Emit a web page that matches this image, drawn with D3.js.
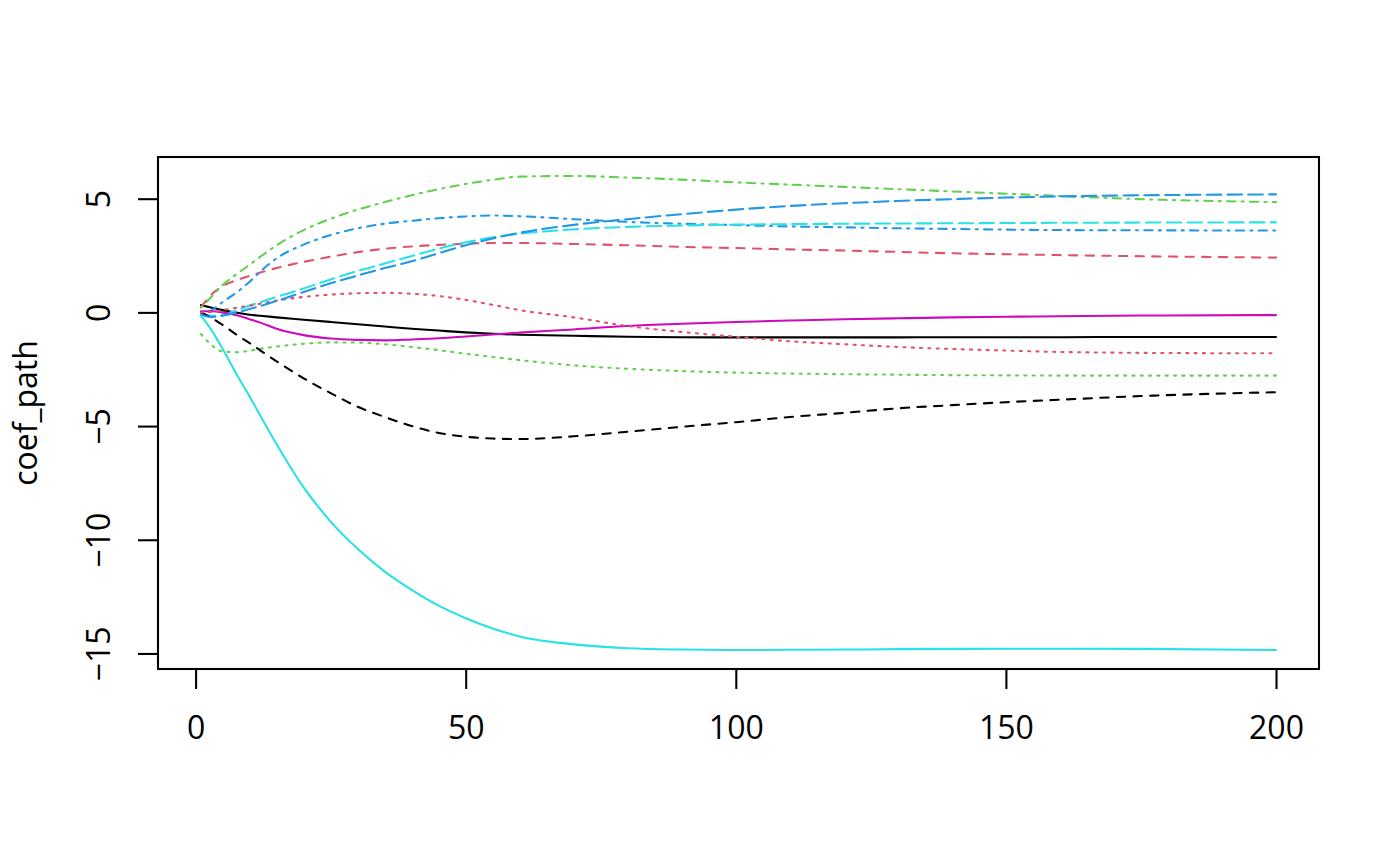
<!DOCTYPE html>
<html lang="en">
<head>
  <meta charset="UTF-8">
  <title>coef_path</title>
  <style>
    body { margin: 0; background: #fff; }
    text { font-family: "Open Sans", "Noto Sans", sans-serif; fill: #000; }
  </style>
</head>
<body>
  <script src="https://d3js.org/d3.v7.min.js"></script>
  <script>
    // Iteration grid the values were read at
    let iter = [1, 3, 5, 8, 10, 12, 15, 20, 25, 30, 35, 40, 45, 50, 55, 60, 70, 80, 90, 100, 110, 120, 130, 140, 150, 160, 175, 200];

    // One array per coefficient path (matplot column order)
    let path1  = [0.32, 0.2, 0.1, -0.03, -0.1, -0.15, -0.22, -0.32, -0.42, -0.52, -0.62, -0.72, -0.8, -0.88, -0.94, -0.98, -1.03, -1.07, -1.09, -1.1, -1.1, -1.1, -1.1, -1.09, -1.09, -1.09, -1.08, -1.08];
    let path2  = [0.23, 0.8, 1.15, 1.45, 1.6, 1.75, 1.95, 2.22, 2.45, 2.65, 2.8, 2.9, 2.97, 3.02, 3.05, 3.05, 3.01, 2.95, 2.88, 2.83, 2.77, 2.72, 2.66, 2.6, 2.56, 2.52, 2.47, 2.41];
    let path3  = [-0.95, -1.45, -1.72, -1.75, -1.68, -1.6, -1.5, -1.38, -1.32, -1.33, -1.4, -1.52, -1.66, -1.82, -1.96, -2.1, -2.33, -2.48, -2.58, -2.65, -2.69, -2.72, -2.74, -2.76, -2.77, -2.78, -2.78, -2.78];
    let path4  = [-0.1, 0.1, 0.45, 0.95, 1.35, 1.8, 2.38, 2.98, 3.4, 3.7, 3.9, 4.03, 4.14, 4.22, 4.26, 4.23, 4.1, 3.98, 3.9, 3.84, 3.78, 3.74, 3.7, 3.67, 3.64, 3.62, 3.61, 3.6];
    let path5  = [-0.05, -0.15, -0.1, 0.12, 0.3, 0.45, 0.68, 1.05, 1.45, 1.82, 2.15, 2.48, 2.8, 3.08, 3.3, 3.46, 3.65, 3.76, 3.82, 3.86, 3.88, 3.9, 3.91, 3.92, 3.93, 3.94, 3.95, 3.96];
    let path6  = [0.05, 0.05, 0.0, -0.15, -0.3, -0.45, -0.72, -1.0, -1.15, -1.21, -1.23, -1.19, -1.14, -1.06, -0.97, -0.89, -0.75, -0.6, -0.5, -0.42, -0.36, -0.3, -0.26, -0.22, -0.19, -0.17, -0.14, -0.12];
    let path7  = [0.0, -0.25, -0.55, -1.05, -1.35, -1.68, -2.15, -2.9, -3.55, -4.15, -4.6, -5.0, -5.3, -5.47, -5.55, -5.57, -5.45, -5.25, -5.03, -4.83, -4.6, -4.42, -4.22, -4.08, -3.95, -3.84, -3.68, -3.51];
    let path8  = [0.0, 0.02, 0.1, 0.22, 0.3, 0.38, 0.52, 0.68, 0.78, 0.84, 0.86, 0.82, 0.72, 0.55, 0.33, 0.1, -0.22, -0.6, -0.86, -1.07, -1.27, -1.4, -1.52, -1.61, -1.68, -1.74, -1.78, -1.8];
    let path9  = [0.2, 0.7, 1.2, 1.75, 2.1, 2.45, 2.95, 3.62, 4.12, 4.52, 4.85, 5.15, 5.42, 5.65, 5.83, 5.97, 6.0, 5.93, 5.84, 5.72, 5.62, 5.52, 5.42, 5.32, 5.22, 5.12, 4.98, 4.85];
    let path10 = [-0.1, -0.2, -0.15, 0.02, 0.15, 0.28, 0.5, 0.9, 1.28, 1.62, 1.95, 2.25, 2.6, 2.95, 3.25, 3.5, 3.85, 4.1, 4.32, 4.52, 4.68, 4.8, 4.9, 4.98, 5.05, 5.1, 5.15, 5.19];
    let path11 = [-0.15, -0.8, -1.6, -2.9, -3.7, -4.55, -5.8, -7.7, -9.2, -10.4, -11.4, -12.2, -12.9, -13.45, -13.9, -14.25, -14.6, -14.77, -14.83, -14.85, -14.84, -14.83, -14.81, -14.8, -14.79, -14.79, -14.8, -14.85];

    let paths = [path1, path2, path3, path4, path5, path6, path7, path8, path9, path10, path11];

    // Axis ticks
    let xTicks = [0, 50, 100, 150, 200];
    let yTicks = [-15, -10, -5, 0, 5];

    // R default palette and line types, cycled like matplot
    let palette = ["#000000", "#DF536B", "#61D04F", "#2297E6", "#28E2E5", "#CD0BBC"];
    let lw = 2.08;
    // R lty codes "44", "13", "1343", "73" in line-width units, drawn with round caps
    let dashes = [
      null,
      `${4 * lw},${4 * lw}`,
      `${1 * lw},${3 * lw}`,
      `${1 * lw},${3 * lw},${4 * lw},${3 * lw}`,
      `${7 * lw},${3 * lw}`
    ];

    let svgWidth = 1400;
    let svgHeight = 866;

    // Plot region box
    let box = { left: 158, right: 1319, top: 157, bottom: 669 };

    let svg = d3.select("body")
      .append("svg")
      .attr("width", svgWidth)
      .attr("height", svgHeight);

    // R style 4% padding of the data range
    let xMin = d3.min(iter), xMax = d3.max(iter);
    let xPad = (xMax - xMin) * 0.04;
    let allValues = paths.flat();
    let yMin = d3.min(allValues), yMax = d3.max(allValues);
    let yPad = (yMax - yMin) * 0.04;

    let x = d3.scaleLinear()
      .domain([xMin - xPad, xMax + xPad])
      .range([box.left, box.right]);

    let y = d3.scaleLinear()
      .domain([yMin - yPad, yMax + yPad])
      .range([box.bottom, box.top]);

    let line = d3.line()
      .x((d, i) => x(iter[i]))
      .y(d => y(d))
      .curve(d3.curveMonotoneX);

    // Clip lines to plot region
    svg.append("clipPath")
      .attr("id", "plotClip")
      .append("rect")
      .attr("x", box.left)
      .attr("y", box.top)
      .attr("width", box.right - box.left)
      .attr("height", box.bottom - box.top);

    svg.append("g")
      .attr("clip-path", "url(#plotClip)")
      .selectAll("path")
      .data(paths)
      .enter()
      .append("path")
      .attr("d", line)
      .attr("fill", "none")
      .attr("stroke", (d, i) => palette[i % palette.length])
      .attr("stroke-width", lw)
      .attr("stroke-linecap", "round")
      .attr("stroke-linejoin", "round")
      .attr("stroke-dasharray", (d, i) => dashes[i % dashes.length]);

    // Box around the plot
    svg.append("rect")
      .attr("x", box.left)
      .attr("y", box.top)
      .attr("width", box.right - box.left)
      .attr("height", box.bottom - box.top)
      .attr("fill", "none")
      .attr("stroke", "#000")
      .attr("stroke-width", lw);

    // Bottom axis
    let xAxis = d3.axisBottom(x)
      .tickValues(xTicks)
      .tickSize(20)
      .tickPadding(25)
      .tickFormat(d3.format("d"));

    let gx = svg.append("g")
      .attr("transform", `translate(0, ${box.bottom})`)
      .call(xAxis);
    gx.select(".domain").remove();
    gx.selectAll("line").attr("stroke", "#000").attr("stroke-width", lw);
    gx.selectAll("text")
      .style("font-family", '"Open Sans", "Noto Sans", sans-serif')
      .style("font-size", "32px")
      .attr("dy", null)
      .attr("y", 70);

    // Left axis, labels parallel to the axis
    let yAxis = d3.axisLeft(y)
      .tickValues(yTicks)
      .tickSize(20)
      .tickFormat(d3.format("d"));

    let gy = svg.append("g")
      .attr("transform", `translate(${box.left}, 0)`)
      .call(yAxis);
    gy.select(".domain").remove();
    gy.selectAll("line").attr("stroke", "#000").attr("stroke-width", lw);
    gy.selectAll("text")
      .style("font-family", '"Open Sans", "Noto Sans", sans-serif')
      .style("font-size", "32px")
      .attr("x", null)
      .attr("dy", null)
      .attr("text-anchor", "middle")
      .attr("transform", "translate(-48, 0) rotate(-90)");

    // Y axis title
    svg.append("text")
      .attr("transform", `translate(37, ${(box.top + box.bottom) / 2}) rotate(-90)`)
      .attr("text-anchor", "middle")
      .style("font-size", "32px")
      .text("coef_path");
  </script>
</body>
</html>
